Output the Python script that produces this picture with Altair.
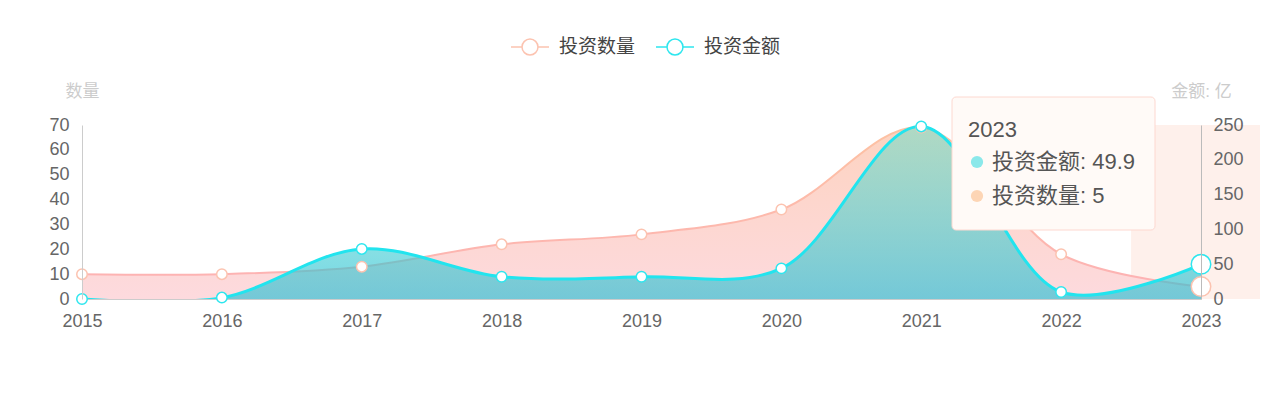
import altair as alt
import pandas as pd

years = [2015, 2016, 2017, 2018, 2019, 2020, 2021, 2022, 2023]
counts = [10, 10, 13, 22, 26, 36, 69, 18, 5]
amounts = [0, 2, 72, 32, 32, 44, 248, 10, 49.9]
series_names = ["投资数量", "投资金额"]
count_ticks = [0, 10, 20, 30, 40, 50, 60, 70]
amount_ticks = [0, 50, 100, 150, 200, 250]
hover_year = 2023

W, H = 1119, 174
FONT = "Helvetica, 'Liberation Sans', 'Noto Sans CJK SC', sans-serif"

df = pd.DataFrame({"year": years, "count": counts, "amount": amounts})
df_count = df.assign(series=series_names[0])
df_amount = df.assign(series=series_names[1])

xscale = alt.Scale(domain=[years[0], years[-1]], nice=False, zero=False)
xaxis = alt.Axis(values=years, format="d", title=None, labelFontSize=18, labelColor="#666",
                 domainColor="#ccc", ticks=False, tickSize=0, labelPadding=13, grid=False,
                 labelFlush=False)
X = alt.X("year:Q", scale=xscale, axis=xaxis)

cscale = alt.Scale(domain=[0, count_ticks[-1]], nice=False, zero=True)
ascale = alt.Scale(domain=[0, amount_ticks[-1]], nice=False, zero=True)

caxis = alt.Axis(values=count_ticks, orient="left", title="数量", titleAngle=0, titleX=0, titleY=-34,
                 titleAlign="center", titleBaseline="middle", titleColor="#ccc", titleFontSize=17,
                 titleFontWeight="normal", domainColor="#ccc", labelColor="#666", labelFontSize=18,
                 ticks=False, tickSize=0, labelPadding=13, grid=False, zindex=1)
aaxis = alt.Axis(values=amount_ticks, orient="right", title="金额: 亿", titleAngle=0, titleX=0, titleY=-34,
                 titleAlign="center", titleBaseline="middle", titleColor="#ccc", titleFontSize=17,
                 titleFontWeight="normal", domainColor="#bbb", labelColor="#666", labelFontSize=18,
                 ticks=False, tickSize=0, labelPadding=12, grid=False, zindex=1)

interp = "catmull-rom"

legend_path = ("M-1,0L-0.42,0M0.42,0L1,0M0.42,0A0.42,0.42,0,1,1,-0.42,0"
               "A0.42,0.42,0,1,1,0.42,0Z")
legend = alt.Legend(title=None, orient="none", direction="horizontal", legendX=428, legendY=-98,
                    symbolType=legend_path, symbolSize=1444, symbolStrokeWidth=1.5,
                    symbolFillColor="white", labelFontSize=19, labelColor="#444",
                    labelOffset=9, columnPadding=17, padding=0)
stroke_scale = alt.Scale(domain=series_names, range=["#fcc3b0", "#2ee6ee"])

# hover shadow band
shadow_df = pd.DataFrame({"x0": [hover_year - 0.5], "x1": [hover_year + 0.5],
                          "y0": [0], "y1": [count_ticks[-1]]})
shadow = alt.Chart(shadow_df).mark_rect(color="#fef0eb").encode(
    x=alt.X("x0:Q", scale=xscale, axis=xaxis), x2="x1",
    y=alt.Y("y1:Q", scale=cscale, axis=None), y2="y0")

count_area = alt.Chart(df_count).mark_area(
    interpolate=interp, clip=True,
    fill=alt.Gradient(gradient="linear", x1=0, y1=0, x2=0, y2=1,
                      stops=[alt.GradientStop(color="#fdd3c0", offset=0),
                             alt.GradientStop(color="#fddade", offset=1)])
).encode(x=X, y=alt.Y("count:Q", scale=cscale, axis=caxis))

count_line = alt.Chart(df_count).mark_line(
    interpolate=interp, strokeWidth=2,
    stroke=alt.Gradient(gradient="linear", x1=0, y1=0, x2=0, y2=1,
                        stops=[alt.GradientStop(color="#fdc2a2", offset=0),
                               alt.GradientStop(color="#fdb2b4", offset=1)])
).encode(x=X, y=alt.Y("count:Q", scale=cscale, axis=None))

amount_area = alt.Chart(df_amount).mark_area(
    interpolate=interp, clip=True,
    fill=alt.Gradient(gradient="linear", x1=0, y1=0, x2=0, y2=1,
                      stops=[alt.GradientStop(color="rgba(70,225,200,0.42)", offset=0),
                             alt.GradientStop(color="rgba(40,190,212,0.65)", offset=1)])
).encode(x=X, y=alt.Y("amount:Q", scale=ascale, axis=aaxis))

amount_line = alt.Chart(df_amount).mark_line(
    interpolate=interp, strokeWidth=3, stroke="#22e4ee", clip=True
).encode(x=X, y=alt.Y("amount:Q", scale=ascale, axis=None))

size_cond = alt.condition(f"datum.year == {hover_year}", alt.value(380), alt.value(110))

count_pts = alt.Chart(df_count).mark_point(
    shape="circle", fill="white", fillOpacity=1, opacity=1, strokeWidth=1.5
).encode(x=X, y=alt.Y("count:Q", scale=cscale, axis=None),
         stroke=alt.Stroke("series:N", scale=stroke_scale, legend=legend),
         size=size_cond)

amount_pts = alt.Chart(df_amount).mark_point(
    shape="circle", fill="white", fillOpacity=1, opacity=1, strokeWidth=1.5
).encode(x=X, y=alt.Y("amount:Q", scale=ascale, axis=None),
         stroke=alt.Stroke("series:N", scale=stroke_scale, legend=legend),
         size=size_cond)

# static tooltip as shown in the reference
tip_df = pd.DataFrame({
    "head": [str(hover_year)],
    "l1": [f"{series_names[1]}: {amounts[-1]}"],
    "l2": [f"{series_names[0]}: {counts[-1]}"],
})
tip_box = alt.Chart(tip_df).mark_rect(
    fill="#fffaf7", stroke="#fdd8d0", strokeWidth=1, cornerRadius=4
).encode(x=alt.value(870), x2=alt.value(1073), y=alt.value(-28), y2=alt.value(105))
tip_head = alt.Chart(tip_df).mark_text(
    align="left", baseline="middle", fontSize=22, color="#555"
).encode(x=alt.value(886), y=alt.value(5), text="head:N")
tip_l1 = alt.Chart(tip_df).mark_text(
    align="left", baseline="middle", fontSize=22, color="#555"
).encode(x=alt.value(910), y=alt.value(37), text="l1:N")
tip_l2 = alt.Chart(tip_df).mark_text(
    align="left", baseline="middle", fontSize=22, color="#555"
).encode(x=alt.value(910), y=alt.value(71), text="l2:N")
tip_d1 = alt.Chart(tip_df).mark_circle(size=150, color="#8be8ea", opacity=1).encode(
    x=alt.value(895), y=alt.value(37))
tip_d2 = alt.Chart(tip_df).mark_circle(size=150, color="#fdd5b5", opacity=1).encode(
    x=alt.value(895), y=alt.value(71))

chart = alt.layer(
    shadow, count_area, count_line, amount_area, amount_line, count_pts, amount_pts,
    tip_box, tip_head, tip_l1, tip_l2, tip_d1, tip_d2
).resolve_scale(y="independent").properties(
    width=W, height=H, autosize="none",
    padding={"left": 74, "top": 117, "right": 59, "bottom": 100}
).configure(font=FONT).configure_view(stroke="transparent", strokeWidth=0)

chart.save("out.html", embed_options={"renderer": "svg", "actions": False})
